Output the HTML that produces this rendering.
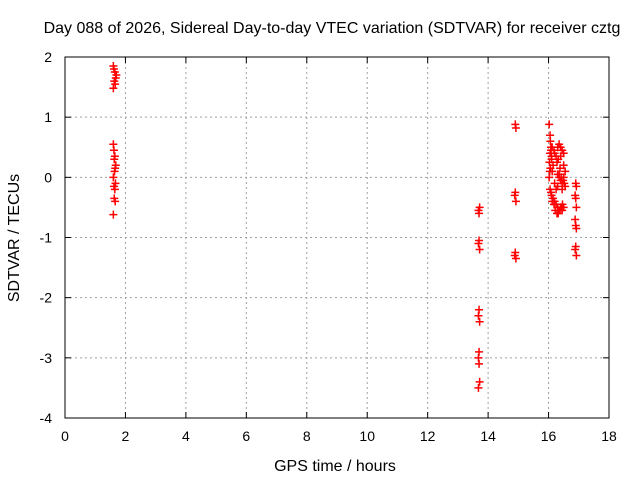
<!DOCTYPE html>
<html><head><meta charset="utf-8"><style>
body{margin:0;background:#fff}
svg text{font-family:"Liberation Sans",sans-serif;font-size:14px;fill:#000}
svg text.big{font-size:16px}
</style></head><body>
<svg id="chart" width="640" height="480" xmlns="http://www.w3.org/2000/svg">
<rect width="640" height="480" fill="#fff"/>
<text class="big" x="332" y="33" text-anchor="middle">Day 088 of 2026, Sidereal Day-to-day VTEC variation (SDTVAR) for receiver cztg</text>
<text class="big" x="335" y="471" text-anchor="middle">GPS time / hours</text>
<text class="big" transform="translate(19,238) rotate(-90)" text-anchor="middle">SDTVAR / TECUs</text>
<g id="grid"></g>
<g id="axes"></g>
<g id="points"></g>
</svg>
<script>
const xTicks=[0,2,4,6,8,10,12,14,16,18];
const yTicks=[2,1,0,-1,-2,-3,-4];
const seriesX=[1.6,1.62,1.65,1.7,1.68,1.63,1.66,1.6,
1.6,1.62,1.65,1.63,1.68,1.66,1.64,1.6,1.67,1.62,1.65,1.63,1.66,1.6,
13.68,13.7,13.72,13.7,13.68,13.72,13.7,13.68,13.72,13.7,13.68,13.7,13.72,13.68,
14.9,14.92,14.9,14.88,14.92,14.9,14.88,14.92,
16.9,16.92,16.88,16.9,16.92,16.88,16.9,16.92,16.9,16.88,16.92,
16.02,16.05,16.08,16.1,16.03,16.06,16.12,16.15,16.1,16.05,16.08,16.12,16.18,16.2,16.25,16.3,16.35,16.4,16.45,16.5,16.55,16.3,16.35,16.4,16.45,16.5,16.28,16.32,16.38,16.42,16.48,16.52,16.05,16.1,16.15,16.2,16.25,16.3,16.35,16.4,16.45,16.5,16.55,16.08,16.12,16.18,16.22,16.28,16.32,16.38,16.42,16.46,16.5,16.2,16.25,16.3,16.35,16.4,16.45,16.02,16.04,16.06,16.1];
const seriesY=[1.85,1.8,1.75,1.7,1.65,1.6,1.55,1.48,
0.55,0.45,0.35,0.3,0.2,0.15,0.1,0,-0.1,-0.15,-0.2,-0.35,-0.4,-0.62,
-0.55,-0.6,-0.5,-1.05,-1.1,-1.2,-2.2,-2.3,-2.4,-2.9,-3.0,-3.1,-3.4,-3.5,
0.88,0.82,-0.25,-0.3,-0.4,-1.25,-1.3,-1.35,
-0.1,-0.15,-0.3,-0.35,-0.5,-0.7,-0.8,-0.85,-1.15,-1.2,-1.3,
0.88,0.7,0.5,0.35,0.25,0.15,0.1,0.2,0.3,0.4,0.45,0.5,0.45,0.4,0.35,0.5,0.55,0.5,0.45,0.4,0.1,0.05,0,-0.05,-0.1,0.2,0.25,0.3,0.15,0.0,-0.05,-0.1,-0.2,-0.3,-0.35,-0.4,-0.45,-0.5,-0.55,-0.5,-0.55,-0.5,-0.15,-0.25,-0.4,-0.45,-0.55,-0.6,-0.6,-0.55,-0.5,-0.45,0.0,-0.1,-0.2,-0.15,0.05,0.35,-0.2,0.0,0.1,0.6];
const NS='http://www.w3.org/2000/svg';
const L=65,R=609,T=57,B=418;
function xs(v){return L+(v-0)/(18-0)*(R-L);}
function ys(v){return B-(v-(-4))/(2-(-4))*(B-T);}
function mk(tag,attrs,parent){const e=document.createElementNS(NS,tag);for(const k in attrs)e.setAttribute(k,attrs[k]);parent.appendChild(e);return e;}
const grid=document.getElementById('grid'),axes=document.getElementById('axes'),pts=document.getElementById('points');
xTicks.forEach(t=>{
  const x=xs(t);
  if(t>0&&t<18){const g=mk('line',{x1:x,x2:x,y1:T,y2:B,stroke:'#a0a0a0','stroke-dasharray':'2,3'},grid);
  
  }
  mk('line',{x1:x,x2:x,y1:B,y2:B-6,stroke:'#000'},axes);
  mk('line',{x1:x,x2:x,y1:T,y2:T+6,stroke:'#000'},axes);
  const tx=mk('text',{x:x,y:B+23,'text-anchor':'middle'},axes);tx.textContent=t;
  
  
});
yTicks.forEach(t=>{
  const y=ys(t);
  if(t>-4&&t<2){const g=mk('line',{x1:L,x2:R,y1:y,y2:y,stroke:'#a0a0a0','stroke-dasharray':'2,3'},grid);
  
  }
  mk('line',{x1:L,x2:L+6,y1:y,y2:y,stroke:'#000'},axes);
  mk('line',{x1:R,x2:R-6,y1:y,y2:y,stroke:'#000'},axes);
  const tx=mk('text',{x:L-13,y:y+5,'text-anchor':'end'},axes);tx.textContent=t;
  
  
});
mk('rect',{x:L,y:T,width:R-L,height:B-T,fill:'none',stroke:'#000'},axes);
seriesX.forEach((v,i)=>{
  const x=xs(v),y=ys(seriesY[i]);
  const p=mk('path',{d:`M${x-4},${y}H${x+4}M${x},${y-4}V${y+4}`,stroke:'#f00','stroke-width':1.5},pts);
  
  
});
</script>
</body></html>
